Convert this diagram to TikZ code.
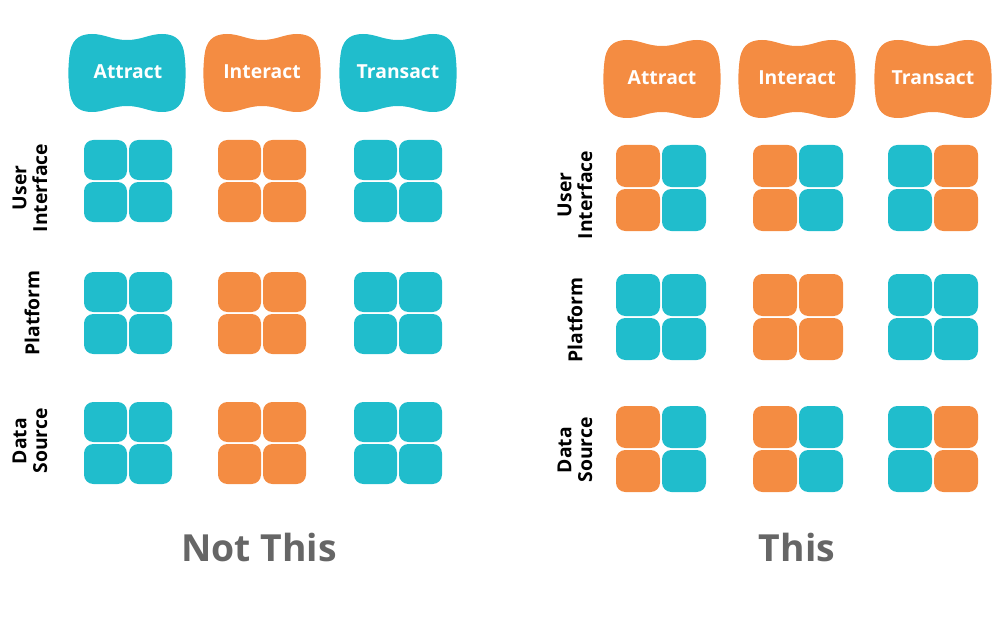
\documentclass[tikz,border=0pt]{standalone}
\usepackage{fontspec}
\setmainfont{Open Sans}
\definecolor{cteal}{HTML}{20BDCC}
\definecolor{corange}{HTML}{F48C42}
\definecolor{cgray}{HTML}{666666}
\tikzset{
  tile/.style={rounded corners=7pt, inner sep=0pt, draw=none},
  headtxt/.style={text=white, font=\bfseries\fontsize{14.5}{17}\selectfont, inner sep=0pt},
  rowlab/.style={text=black, font=\bfseries\fontsize{14.5}{15.5}\selectfont, align=center, rotate=90, inner sep=0pt},
  bigtxt/.style={text=cgray, font=\bfseries\fontsize{28}{32}\selectfont, inner sep=0pt},
  blob/.pic={
    \path[pic actions] (0,33) .. controls (15,33) and (22,39) .. (35,39)
      .. controls (50,39) and (56,31) .. (57.5,18)
      .. controls (59,5) and (59,-5) .. (57.5,-18)
      .. controls (56,-31) and (50,-39) .. (35,-39)
      .. controls (22,-39) and (15,-33) .. (0,-33)
      .. controls (-15,-33) and (-22,-39) .. (-35,-39)
      .. controls (-50,-39) and (-56,-31) .. (-57.5,-18)
      .. controls (-59,-5) and (-59,5) .. (-57.5,18)
      .. controls (-56,31) and (-50,39) .. (-35,39)
      .. controls (-22,39) and (-15,33) .. (0,33) -- cycle;
  }
}
\newcommand\tilegrp[9]{%
  \node[tile, fill=#6, minimum width={(2*#4-2)*0.75pt}, minimum height={(2*#5-2)*0.75pt}] (#1-tl) at ({#2-#4},{#3-#5}) {};
  \node[tile, fill=#7, minimum width={(2*#4-2)*0.75pt}, minimum height={(2*#5-2)*0.75pt}] (#1-tr) at ({#2+#4},{#3-#5}) {};
  \node[tile, fill=#8, minimum width={(2*#4-2)*0.75pt}, minimum height={(2*#5-2)*0.75pt}] (#1-bl) at ({#2-#4},{#3+#5}) {};
  \node[tile, fill=#9, minimum width={(2*#4-2)*0.75pt}, minimum height={(2*#5-2)*0.75pt}] (#1-br) at ({#2+#4},{#3+#5}) {};
}
\begin{document}
\begin{tikzpicture}[x=0.75pt,y=-0.75pt]
\useasboundingbox (0,0) rectangle (1004,635);
% ---------- left panel ----------
\pic[fill=cteal] at (127,73) {blob};
\pic[fill=corange] at (262,73) {blob};
\pic[fill=cteal] at (398,73) {blob};
\node[headtxt] (lA) at (128,72) {Attract};
\node[headtxt] (lI) at (262,72) {Interact};
\node[headtxt] (lT) at (398,72) {Transact};
\node[rowlab] (lUI) at (30,188) {User\\Interface};
\node[rowlab] (lPF) at (32,313) {Platform};
\node[rowlab] (lDS) at (30,441) {Data\\Source};
\tilegrp{l11}{128}{181}{22.5}{21}{cteal}{cteal}{cteal}{cteal}
\tilegrp{l12}{262}{181}{22.5}{21}{corange}{corange}{corange}{corange}
\tilegrp{l13}{398}{181}{22.5}{21}{cteal}{cteal}{cteal}{cteal}
\tilegrp{l21}{128}{313}{22.5}{21}{cteal}{cteal}{cteal}{cteal}
\tilegrp{l22}{262}{313}{22.5}{21}{corange}{corange}{corange}{corange}
\tilegrp{l23}{398}{313}{22.5}{21}{cteal}{cteal}{cteal}{cteal}
\tilegrp{l31}{128}{443}{22.5}{21}{cteal}{cteal}{cteal}{cteal}
\tilegrp{l32}{262}{443}{22.5}{21}{corange}{corange}{corange}{corange}
\tilegrp{l33}{398}{443}{22.5}{21}{cteal}{cteal}{cteal}{cteal}
\node[bigtxt] (notthis) at (259,547) {Not This};
% ---------- right panel ----------
\pic[fill=corange] at (662,79) {blob};
\pic[fill=corange] at (797,79) {blob};
\pic[fill=corange] at (933,79) {blob};
\node[headtxt] (rA) at (662,78) {Attract};
\node[headtxt] (rI) at (797,78) {Interact};
\node[headtxt] (rT) at (933,78) {Transact};
\node[rowlab] (rUI) at (575,195) {User\\Interface};
\node[rowlab] (rPF) at (575,320) {Platform};
\node[rowlab] (rDS) at (575,450) {Data\\Source};
\tilegrp{r11}{661}{188}{23}{22}{corange}{cteal}{corange}{cteal}
\tilegrp{r12}{798}{188}{23}{22}{corange}{cteal}{corange}{cteal}
\tilegrp{r13}{933}{188}{23}{22}{cteal}{corange}{cteal}{corange}
\tilegrp{r21}{661}{317}{23}{22}{cteal}{cteal}{cteal}{cteal}
\tilegrp{r22}{798}{317}{23}{22}{corange}{corange}{corange}{corange}
\tilegrp{r23}{933}{317}{23}{22}{cteal}{cteal}{cteal}{cteal}
\tilegrp{r31}{661}{449}{23}{22}{corange}{cteal}{corange}{cteal}
\tilegrp{r32}{798}{449}{23}{22}{corange}{cteal}{corange}{cteal}
\tilegrp{r33}{933}{449}{23}{22}{cteal}{corange}{cteal}{corange}
\node[bigtxt] (this) at (797,547) {This};
\end{tikzpicture}
\end{document}
